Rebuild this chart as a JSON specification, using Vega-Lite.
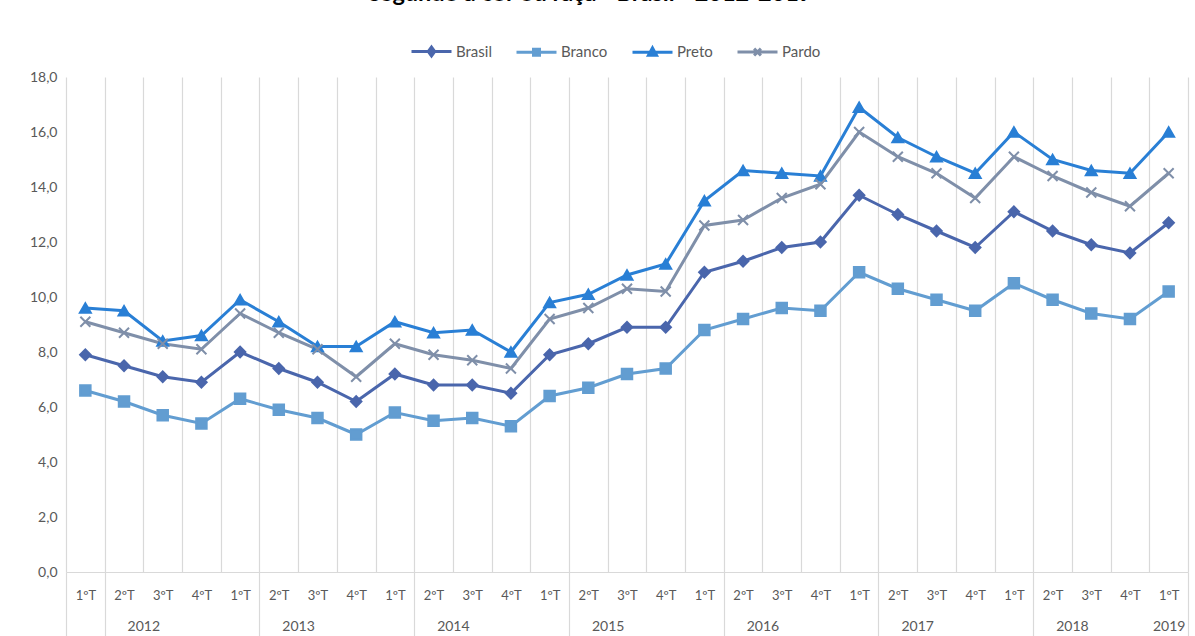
{
  "$schema": "https://vega.github.io/schema/vega-lite/v6.json",
  "width": 1122,
  "height": 495,
  "autosize": {"type": "none"},
  "padding": {"left": 66, "top": 77, "right": 7, "bottom": 64},
  "background": "white",
  "config": {"view": {"stroke": null}, "font": "Lato"},
  "title": {
    "text": "segundo a cor ou raça - Brasil - 2012-2019",
    "fontSize": 23.5,
    "fontWeight": "bold",
    "color": "#000000",
    "anchor": "middle",
    "frame": "group",
    "baseline": "alphabetic",
    "offset": 6,
    "dx": -36
  },
  "data": {
    "values": [
      {"periodo": "2012 1ºT", "Brasil": 7.9, "Branco": 6.6, "Preto": 9.6, "Pardo": 9.1},
      {"periodo": "2012 2ºT", "Brasil": 7.5, "Branco": 6.2, "Preto": 9.5, "Pardo": 8.7},
      {"periodo": "2012 3ºT", "Brasil": 7.1, "Branco": 5.7, "Preto": 8.4, "Pardo": 8.3},
      {"periodo": "2012 4ºT", "Brasil": 6.9, "Branco": 5.4, "Preto": 8.6, "Pardo": 8.1},
      {"periodo": "2013 1ºT", "Brasil": 8.0, "Branco": 6.3, "Preto": 9.9, "Pardo": 9.4},
      {"periodo": "2013 2ºT", "Brasil": 7.4, "Branco": 5.9, "Preto": 9.1, "Pardo": 8.7},
      {"periodo": "2013 3ºT", "Brasil": 6.9, "Branco": 5.6, "Preto": 8.2, "Pardo": 8.1},
      {"periodo": "2013 4ºT", "Brasil": 6.2, "Branco": 5.0, "Preto": 8.2, "Pardo": 7.1},
      {"periodo": "2014 1ºT", "Brasil": 7.2, "Branco": 5.8, "Preto": 9.1, "Pardo": 8.3},
      {"periodo": "2014 2ºT", "Brasil": 6.8, "Branco": 5.5, "Preto": 8.7, "Pardo": 7.9},
      {"periodo": "2014 3ºT", "Brasil": 6.8, "Branco": 5.6, "Preto": 8.8, "Pardo": 7.7},
      {"periodo": "2014 4ºT", "Brasil": 6.5, "Branco": 5.3, "Preto": 8.0, "Pardo": 7.4},
      {"periodo": "2015 1ºT", "Brasil": 7.9, "Branco": 6.4, "Preto": 9.8, "Pardo": 9.2},
      {"periodo": "2015 2ºT", "Brasil": 8.3, "Branco": 6.7, "Preto": 10.1, "Pardo": 9.6},
      {"periodo": "2015 3ºT", "Brasil": 8.9, "Branco": 7.2, "Preto": 10.8, "Pardo": 10.3},
      {"periodo": "2015 4ºT", "Brasil": 8.9, "Branco": 7.4, "Preto": 11.2, "Pardo": 10.2},
      {"periodo": "2016 1ºT", "Brasil": 10.9, "Branco": 8.8, "Preto": 13.5, "Pardo": 12.6},
      {"periodo": "2016 2ºT", "Brasil": 11.3, "Branco": 9.2, "Preto": 14.6, "Pardo": 12.8},
      {"periodo": "2016 3ºT", "Brasil": 11.8, "Branco": 9.6, "Preto": 14.5, "Pardo": 13.6},
      {"periodo": "2016 4ºT", "Brasil": 12.0, "Branco": 9.5, "Preto": 14.4, "Pardo": 14.1},
      {"periodo": "2017 1ºT", "Brasil": 13.7, "Branco": 10.9, "Preto": 16.9, "Pardo": 16.0},
      {"periodo": "2017 2ºT", "Brasil": 13.0, "Branco": 10.3, "Preto": 15.8, "Pardo": 15.1},
      {"periodo": "2017 3ºT", "Brasil": 12.4, "Branco": 9.9, "Preto": 15.1, "Pardo": 14.5},
      {"periodo": "2017 4ºT", "Brasil": 11.8, "Branco": 9.5, "Preto": 14.5, "Pardo": 13.6},
      {"periodo": "2018 1ºT", "Brasil": 13.1, "Branco": 10.5, "Preto": 16.0, "Pardo": 15.1},
      {"periodo": "2018 2ºT", "Brasil": 12.4, "Branco": 9.9, "Preto": 15.0, "Pardo": 14.4},
      {"periodo": "2018 3ºT", "Brasil": 11.9, "Branco": 9.4, "Preto": 14.6, "Pardo": 13.8},
      {"periodo": "2018 4ºT", "Brasil": 11.6, "Branco": 9.2, "Preto": 14.5, "Pardo": 13.3},
      {"periodo": "2019 1ºT", "Brasil": 12.7, "Branco": 10.2, "Preto": 16.0, "Pardo": 14.5}
    ]
  },
  "transform": [
    {"fold": ["Brasil", "Branco", "Preto", "Pardo"], "as": ["grupo", "taxa"]}
  ],
  "layer": [
    {
      "mark": {"type": "line", "strokeWidth": 3},
      "encoding": {
        "x": {
          "field": "periodo",
          "type": "nominal",
          "sort": null,
          "scale": {"type": "band", "paddingInner": 0, "paddingOuter": 0},
          "axis": {
            "orient": "bottom",
            "title": null,
            "labelExpr": "split(datum.value, ' ')[1]",
            "labelAngle": 0,
            "labelFontSize": 13,
            "labelColor": "#595959",
            "labelPadding": 17,
            "labelOverlap": false,
            "labelFlush": false,
            "ticks": false,
            "tickSize": 0,
            "tickBand": "extent",
            "grid": true,
            "gridColor": "#D9D9D9",
            "gridWidth": 1.2,
            "domain": true,
            "domainColor": "#D9D9D9",
            "domainWidth": 1.2
          }
        },
        "y": {
          "field": "taxa",
          "type": "quantitative",
          "scale": {"domain": [0, 18], "nice": false},
          "axis": {
            "title": null,
            "values": [0, 2, 4, 6, 8, 10, 12, 14, 16, 18],
            "labelExpr": "replace(format(datum.value, '.1f'), '.', ',')",
            "domain": false,
            "ticks": false,
            "grid": false,
            "labelFontSize": 14,
            "labelColor": "#595959",
            "labelPadding": 9
          }
        },
        "color": {
          "field": "grupo",
          "type": "nominal",
          "scale": {"domain": ["Brasil", "Branco", "Preto", "Pardo"], "range": ["#4A66AC", "#629DD1", "#297FD5", "#7F8FA9"]},
          "legend": {
            "orient": "none",
            "legendX": 344,
            "legendY": -47,
            "direction": "horizontal",
            "title": null,
            "padding": 0,
            "symbolSize": 1600,
            "symbolStrokeWidth": 3,
            "labelFontSize": 15,
            "labelColor": "#595959",
            "labelOffset": 3,
            "columnPadding": 18,
            "encode": {
              "symbols": {
                "update": {
                  "shape": {"signal": "datum.value === 'Brasil' ? 'M-1,0H1M0,-0.22L0.16,0L0,0.22L-0.16,0Z' : datum.value === 'Branco' ? 'M-1,0H1M-0.15,-0.15H0.15V0.15H-0.15Z' : datum.value === 'Preto' ? 'M-1,0H1M0,-0.22L0.2,0.14L-0.2,0.14Z' : 'M-1,0H1M-0.17,-0.17L0.17,0.17M-0.17,0.17L0.17,-0.17'"},
                  "fill": {"scale": "color", "field": "value"},
                  "stroke": {"scale": "color", "field": "value"},
                  "strokeWidth": {"value": 3}
                }
              }
            }
          }
        }
      }
    },
    {
      "transform": [{"filter": "datum.grupo === 'Brasil'"}],
      "mark": {"type": "point", "shape": "diamond", "filled": true, "color": "#4A66AC", "stroke": "#4A66AC", "strokeWidth": 2, "size": 110, "opacity": 1},
      "encoding": {
        "x": {
          "field": "periodo",
          "type": "nominal",
          "sort": null,
          "axis": {
            "orient": "bottom",
            "title": null,
            "values": ["2012 1ºT", "2013 1ºT", "2014 1ºT", "2015 1ºT", "2016 1ºT", "2017 1ºT", "2018 1ºT", "2019 1ºT"],
            "labelExpr": "datum.value ? split(datum.value, ' ')[0] : ''",
            "labelAngle": 0,
            "labelFontSize": 14,
            "labelColor": "#595959",
            "labelOverlap": false,
            "labelFlush": false,
            "labelOffset": {"condition": {"test": "datum.value === '2019 1ºT'", "value": 0}, "value": 58},
            "ticks": true,
            "tickBand": "extent",
            "tickSize": 64,
            "tickColor": "#D9D9D9",
            "tickWidth": 1.2,
            "labelPadding": -17,
            "grid": false,
            "domain": false
          }
        },
        "y": {"field": "taxa", "type": "quantitative"}
      }
    },
    {
      "transform": [{"filter": "datum.grupo === 'Branco'"}],
      "mark": {"type": "point", "shape": "square", "filled": true, "color": "#629DD1", "stroke": "#629DD1", "strokeWidth": 2, "size": 110, "opacity": 1},
      "encoding": {
        "x": {"field": "periodo", "type": "nominal", "sort": null, "axis": null},
        "y": {"field": "taxa", "type": "quantitative"}
      }
    },
    {
      "transform": [{"filter": "datum.grupo === 'Preto'"}],
      "mark": {"type": "point", "shape": "triangle-up", "filled": true, "color": "#297FD5", "stroke": "#297FD5", "strokeWidth": 2, "size": 120, "opacity": 1},
      "encoding": {
        "x": {"field": "periodo", "type": "nominal", "sort": null, "axis": null},
        "y": {"field": "taxa", "type": "quantitative"}
      }
    },
    {
      "transform": [{"filter": "datum.grupo === 'Pardo'"}],
      "mark": {"type": "point", "shape": "M-1,-1L1,1M-1,1L1,-1", "filled": false, "color": "#7F8FA9", "stroke": "#7F8FA9", "strokeWidth": 2, "size": 100, "opacity": 1},
      "encoding": {
        "x": {"field": "periodo", "type": "nominal", "sort": null, "axis": null},
        "y": {"field": "taxa", "type": "quantitative"}
      }
    }
  ],
  "resolve": {"axis": {"x": "independent"}}
}
